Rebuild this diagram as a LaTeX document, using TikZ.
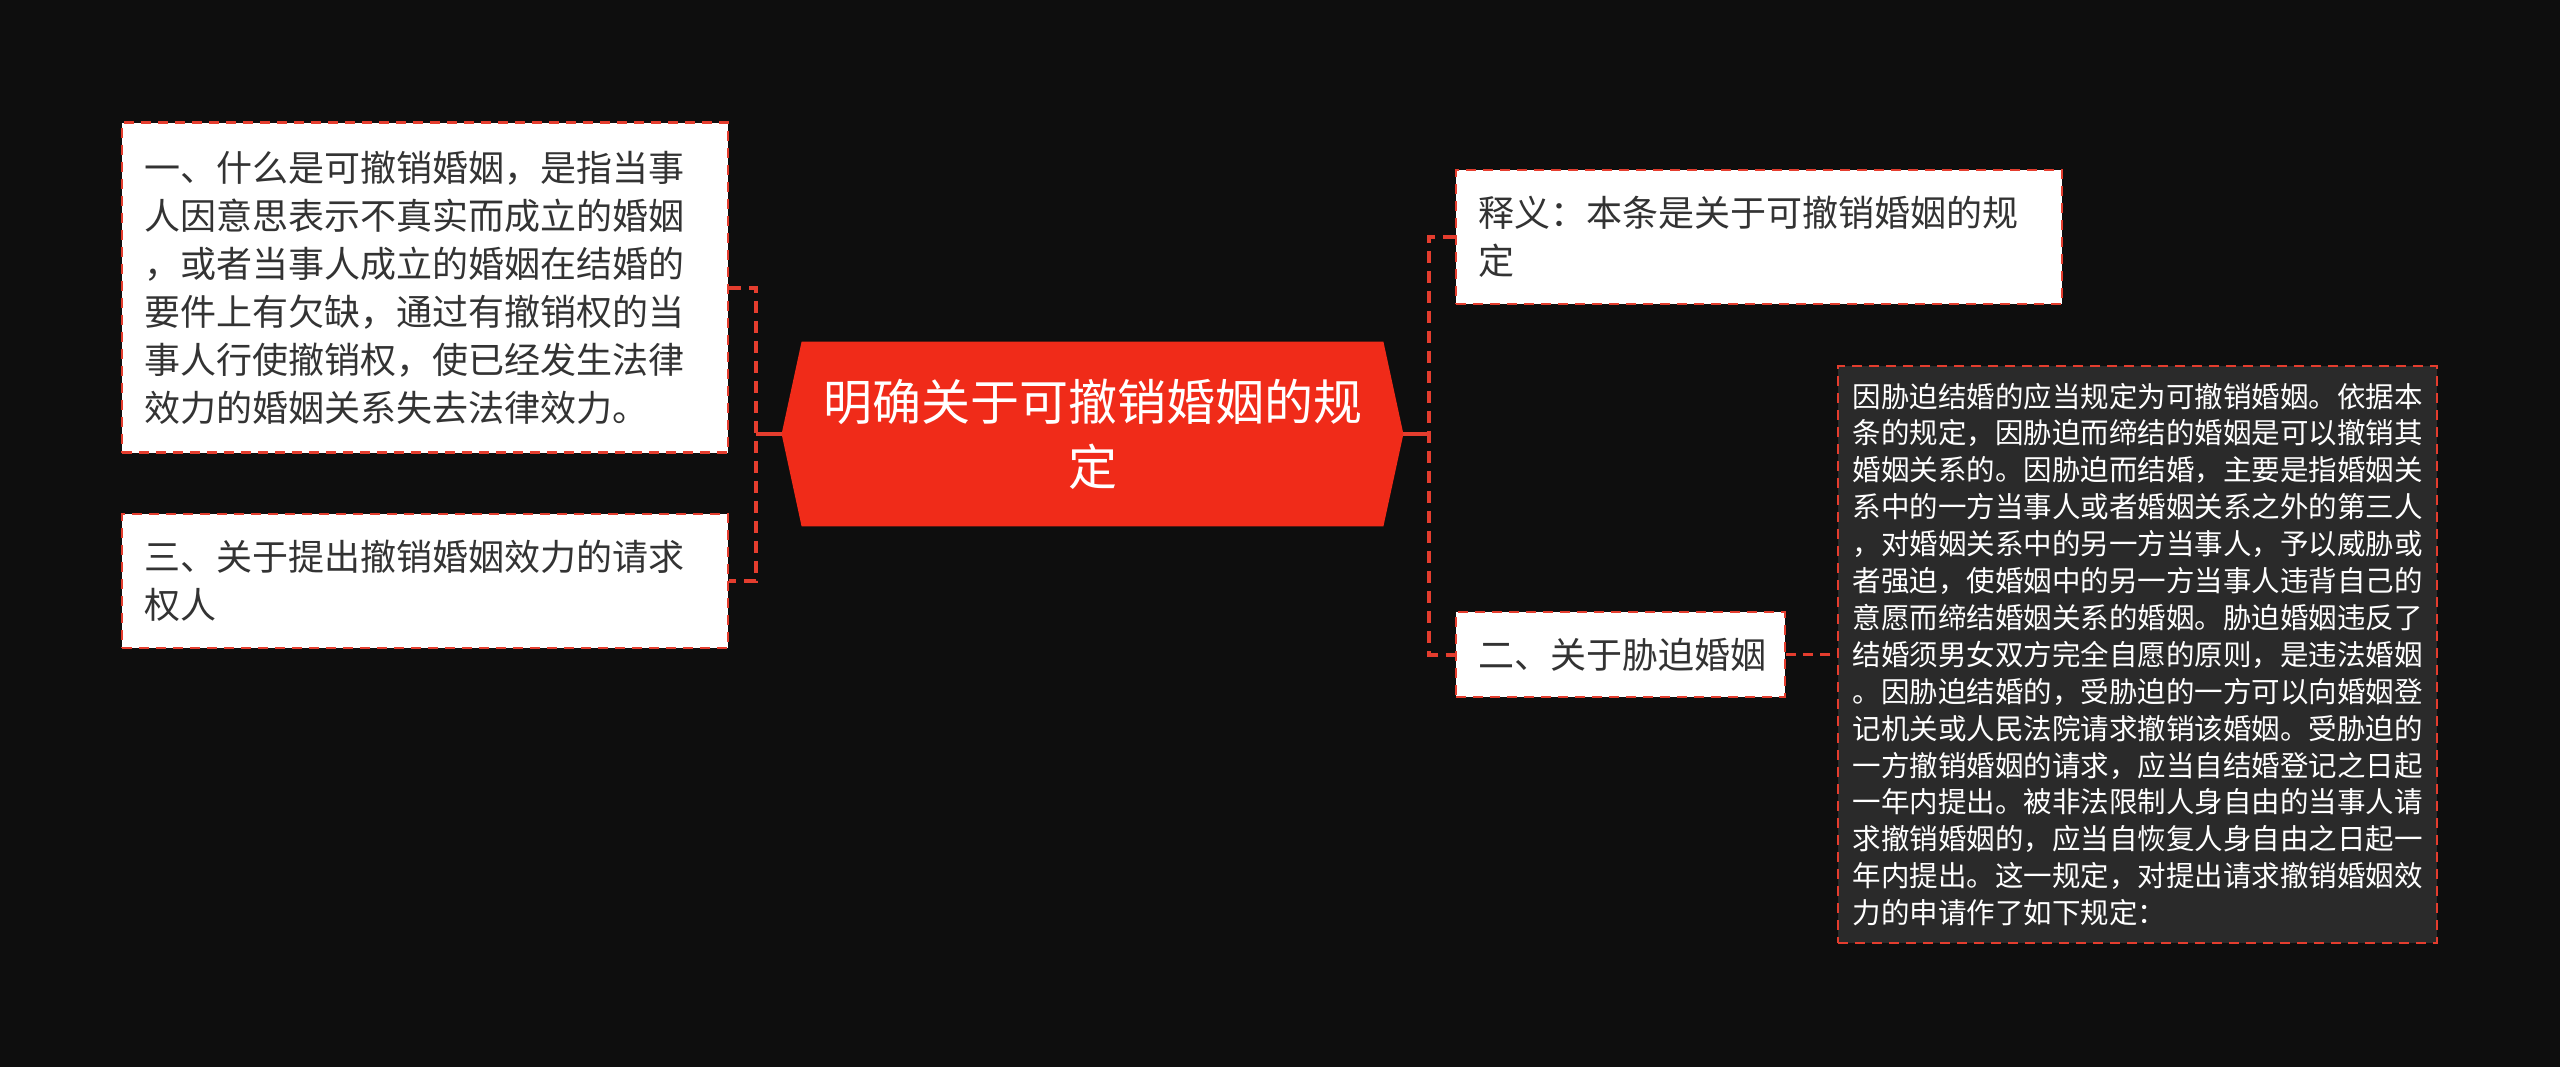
\documentclass[tikz,border=0pt]{standalone}
\usepackage{fontspec}
\setmainfont{Noto Sans CJK SC}
\usetikzlibrary{backgrounds}
\definecolor{bgc}{HTML}{0E0E0E}
\definecolor{redl}{HTML}{E43D2E}
\definecolor{hexred}{HTML}{F02B19}
\definecolor{darkbox}{HTML}{2A2A2A}
\definecolor{txt}{HTML}{333333}
\tikzset{
  lightbox/.style={draw=redl, line width=1.3pt, dash pattern=on 5pt off 3.5pt, fill=white,
    text=txt, align=left, inner ysep=0pt, inner xsep=11pt, text width=281pt,
    font=\fontsize{18pt}{24pt}\selectfont},
  darkbox/.style={draw=redl, line width=1.3pt, dash pattern=on 5pt off 3.5pt, fill=darkbox,
    text=white, align=left, inner ysep=0pt, inner xsep=7.25pt, text width=285pt,
    font=\fontsize{14.25pt}{18.45pt}\selectfont},
  bracket/.style={draw=redl, line width=2pt, dash pattern=on 6pt off 4pt},
  link/.style={draw=redl, line width=2pt},
  dlink/.style={draw=redl, line width=1.3pt, dash pattern=on 5pt off 3.5pt},
}
\begin{document}
\begin{tikzpicture}[x=0.5pt,y=-0.5pt]
\useasboundingbox (0,0) rectangle (2560,1067);
% center node
\node (c) [minimum width=310.5pt, minimum height=92pt, inner sep=0pt, text=white, align=center,
  font=\fontsize{24.5pt}{32.5pt}\selectfont] at (1092.5,434) {明确关于可撤销婚姻的规\\定};
\begin{scope}[on background layer]
\fill[bgc] (0,0) rectangle (2560,1067);
\fill[hexred] (c.west) -- ([xshift=10pt]c.north west) -- ([xshift=-10pt]c.north east) -- (c.east)
  -- ([xshift=-10pt]c.south east) -- ([xshift=10pt]c.south west) -- cycle;
\end{scope}
% left boxes
\node (b1) [lightbox, minimum height=165pt] at (425,287.5) {一、什么是可撤销婚姻，是指当事\\人因意思表示不真实而成立的婚姻\\，或者当事人成立的婚姻在结婚的\\要件上有欠缺，通过有撤销权的当\\事人行使撤销权，使已经发生法律\\效力的婚姻关系失去法律效力。};
\node (b3) [lightbox, minimum height=67pt] at (425,581) {三、关于提出撤销婚姻效力的请求\\权人};
% right boxes
\node (r1) [lightbox, minimum height=67pt] at (1759,237) {释义：本条是关于可撤销婚姻的规\\定};
\node (r2) [lightbox, text width=142.5pt, minimum height=42.5pt] at (1620.5,654.5) {二、关于胁迫婚姻};
\node (big) [darkbox, minimum height=288.5pt] at (2137.5,654.5) {因胁迫结婚的应当规定为可撤销婚姻。依据本\\条的规定，因胁迫而缔结的婚姻是可以撤销其\\婚姻关系的。因胁迫而结婚，主要是指婚姻关\\系中的一方当事人或者婚姻关系之外的第三人\\，对婚姻关系中的另一方当事人，予以威胁或\\者强迫，使婚姻中的另一方当事人违背自己的\\意愿而缔结婚姻关系的婚姻。胁迫婚姻违反了\\结婚须男女双方完全自愿的原则，是违法婚姻\\。因胁迫结婚的，受胁迫的一方可以向婚姻登\\记机关或人民法院请求撤销该婚姻。受胁迫的\\一方撤销婚姻的请求，应当自结婚登记之日起\\一年内提出。被非法限制人身自由的当事人请\\求撤销婚姻的，应当自恢复人身自由之日起一\\年内提出。这一规定，对提出请求撤销婚姻效\\力的申请作了如下规定：};
% connectors
\coordinate (lb) at (756,434);
\coordinate (rb) at (1429,434);
\draw[bracket] (b1.east) -| (lb) |- (b3.east);
\draw[link] (lb) -- (c.west);
\draw[bracket] (r1.west) -| (rb) |- (r2.west);
\draw[link] (c.east) -- (rb);
\draw[dlink] (r2.east) -- (big.west);
\end{tikzpicture}
\end{document}
